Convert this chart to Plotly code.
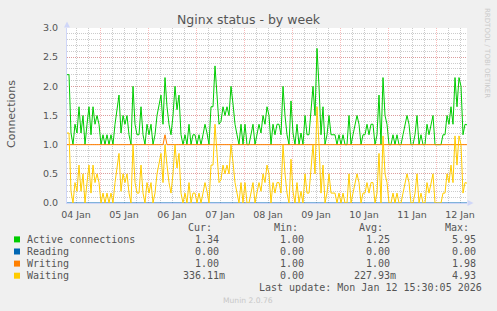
import plotly.graph_objects as go
import pandas as pd

# ---------------- data (hourly samples, 04 Jan 07:30 -> 12 Jan 15:30) ----------------
start_time = "2026-01-04 07:30"
end_time = "2026-01-12 15:30"

active = [
    2.2, 2.2, 1.2, 1.0, 1.35, 1.2, 1.65, 1.2, 1.5, 1.0, 1.35, 1.65, 1.17, 1.65, 1.35, 1.5, 1.35,
    1.0, 1.17, 1.0, 1.17, 1.0, 1.17, 1.0, 1.35, 1.65, 1.85, 1.2, 1.5, 1.35, 1.5, 1.17, 1.0, 2.0,
    1.35, 1.17, 1.17, 1.65, 1.17, 1.0, 1.35, 1.17, 1.35, 1.0, 1.17, 1.5, 1.65, 1.85, 1.35, 2.15, 1.65,
    1.35, 1.17, 1.5, 2.0, 1.6, 1.85, 1.17, 1.0, 1.17, 1.0, 1.35, 1.0, 1.17, 1.17, 1.0, 1.17, 1.0,
    1.17, 1.35, 1.2, 1.0, 1.65, 1.65, 2.35, 1.8, 1.35, 1.4, 1.65, 1.5, 1.65, 1.5, 2.0, 1.7, 1.35,
    1.17, 1.0, 1.35, 1.0, 1.35, 1.0, 1.0, 1.17, 1.35, 1.0, 1.17, 1.35, 1.2, 1.5, 1.35, 1.65,
    1.5, 1.0, 1.35, 1.17, 1.35, 1.35, 1.17, 2.0, 1.5, 1.17, 1.0, 1.75, 1.2, 1.0, 1.35, 1.0, 1.2,
    1.0, 1.5, 1.17, 1.17, 1.65, 2.0, 1.5, 2.65, 2.0, 1.17, 1.65, 1.0, 1.17, 1.5, 1.17, 1.17, 1.17,
    1.0, 1.17, 1.0, 1.17, 1.0, 1.0, 1.5, 1.0, 1.17, 1.35, 1.5, 1.35, 1.0, 1.17, 1.17, 1.35, 1.17,
    1.35, 1.35, 1.0, 1.17, 1.85, 1.0, 2.15, 1.5, 1.35, 1.0, 1.0, 1.17, 1.0, 1.17, 1.0, 1.0,
    1.17, 1.35, 1.5, 1.35, 1.0, 1.0, 1.17, 1.5, 1.0, 1.17, 1.0, 1.0, 1.35, 1.17, 1.35, 1.5, 1.0,
    1.0, 1.0, 1.0, 1.17, 1.17, 1.5, 1.35, 1.65, 1.35, 2.15, 1.65, 2.15, 2.0, 1.17, 1.35, 1.34,
]

waiting = [
    1.2, 1.2, 0.2, 0.0, 0.35, 0.2, 0.65, 0.2, 0.5, 0.0, 0.35, 0.65, 0.17, 0.65, 0.35, 0.5, 0.35,
    0.0, 0.17, 0.0, 0.17, 0.0, 0.17, 0.0, 0.35, 0.65, 0.85, 0.2, 0.5, 0.35, 0.5, 0.17, 0.0, 1.0,
    0.35, 0.17, 0.17, 0.65, 0.17, 0.0, 0.35, 0.17, 0.35, 0.0, 0.17, 0.5, 0.65, 0.85, 0.35, 1.0, 0.65,
    0.35, 0.17, 0.5, 1.0, 0.6, 0.85, 0.17, 0.0, 0.17, 0.0, 0.35, 0.0, 0.17, 0.17, 0.0, 0.17, 0.0,
    0.17, 0.35, 0.2, 0.0, 0.65, 0.65, 1.35, 0.8, 0.35, 0.4, 0.65, 0.5, 0.65, 0.5, 1.0, 0.7, 0.35,
    0.17, 0.0, 0.35, 0.0, 0.35, 0.0, 0.0, 0.17, 0.35, 0.0, 0.17, 0.35, 0.2, 0.5, 0.35, 0.65,
    0.5, 0.0, 0.35, 0.17, 0.35, 0.35, 0.17, 1.0, 0.5, 0.17, 0.0, 0.75, 0.2, 0.0, 0.35, 0.0, 0.2,
    0.0, 0.5, 0.17, 0.17, 0.65, 1.0, 0.5, 1.65, 1.0, 0.17, 0.65, 0.0, 0.17, 0.5, 0.17, 0.17, 0.17,
    0.0, 0.17, 0.0, 0.17, 0.0, 0.0, 0.5, 0.0, 0.17, 0.35, 0.5, 0.35, 0.0, 0.17, 0.17, 0.35, 0.17,
    0.35, 0.35, 0.0, 0.17, 0.85, 0.0, 1.15, 0.5, 0.35, 0.0, 0.0, 0.17, 0.0, 0.17, 0.0, 0.0,
    0.17, 0.35, 0.5, 0.35, 0.0, 0.0, 0.17, 0.5, 0.0, 0.17, 0.0, 0.0, 0.35, 0.17, 0.35, 0.5, 0.0,
    0.0, 0.0, 0.0, 0.17, 0.17, 0.5, 0.35, 0.65, 0.35, 1.15, 0.65, 1.15, 1.0, 0.17, 0.35, 0.34,
]

writing = [1.0] * 49 + [1.17] + [1.0] * 151
reading = [0.0] * 201

series_names = ["Active connections", "Reading", "Writing", "Waiting"]
series_colors = ["#00CC00", "#0066B3", "#FF8000", "#FFCC00"]
cur_vals = ["1.34", "0.00", "1.00", "336.11m"]
min_vals = ["1.00", "0.00", "1.00", "0.00"]
avg_vals = ["1.25", "0.00", "1.00", "227.93m"]
max_vals = ["5.95", "0.00", "1.98", "4.93"]
y_ticks = [0.0, 0.5, 1.0, 1.5, 2.0, 2.5, 3.0]

title_text = "Nginx status - by week"
y_title = "Connections"
last_update = "Last update: Mon Jan 12 15:30:05 2026"
footer = "Munin 2.0.76"
side_text = "RRDTOOL / TOBI OETIKER"

# ---------------- layout geometry ----------------
W, H = 497, 311
L, R, T, B = 67, 30, 28, 108
PW = W - L - R
PH = H - T - B


def fx(x):
    return (x - L) / PW


def fy(y):
    return (H - B - y) / PH


times = pd.date_range(start_time, periods=len(active), freq="h")

fig = go.Figure()
for name, vals, col in zip(series_names, [active, reading, writing, waiting], series_colors):
    fig.add_trace(go.Scatter(x=times, y=vals, mode="lines", name=name,
                             line=dict(color=col, width=1), hoverinfo="skip",
                             showlegend=False))

MAJ = "rgba(240,90,90,0.42)"
MIN = "rgba(130,130,130,0.42)"
FONTC = "#555555"
AXC = "#CFD6F8"

fig.update_layout(
    width=W, height=H,
    margin=dict(l=L, r=R, t=T, b=B, pad=0),
    paper_bgcolor="#F0F0F0", plot_bgcolor="#FFFFFF",
    showlegend=False,
    xaxis=dict(
        type="date", range=[start_time, end_time],
        tickmode="linear", tick0="2026-01-04", dtick=86400000,
        ticklabelmode="period", tickformat="%d %b",
        showgrid=True, gridcolor=MAJ, griddash="1px,1px", gridwidth=1,
        minor=dict(tick0="2026-01-04", dtick=6 * 3600 * 1000, showgrid=True,
                   gridcolor=MIN, griddash="1px,1px", ticks=""),
        ticks="", showline=True, linecolor=AXC, linewidth=1,
        zeroline=False, tickfont=dict(family="DejaVu Sans", size=9.5, color=FONTC),
        ticklabelstandoff=3,
    ),
    yaxis=dict(
        range=[0, 3.0], tickmode="array", tickvals=y_ticks, tickformat=".1f",
        showgrid=True, gridcolor=MAJ, griddash="1px,1px", gridwidth=1,
        minor=dict(dtick=0.1, tick0=0, showgrid=True, gridcolor=MIN,
                   griddash="1px,1px", ticks=""),
        ticks="", showline=True, linecolor=AXC, linewidth=1, zeroline=False,
        tickfont=dict(family="DejaVu Sans", size=9.5, color=FONTC),
        ticklabelstandoff=6,
    ),
)

shapes = []
# axis arrows
shapes.append(dict(type="path", xref="paper", yref="paper",
                   path=f"M {fx(64)} {fy(27.5)} L {fx(67)} {fy(21.5)} L {fx(70)} {fy(27.5)} Z",
                   fillcolor=AXC, line=dict(width=0)))
shapes.append(dict(type="path", xref="paper", yref="paper",
                   path=f"M {fx(467.5)} {fy(200)} L {fx(473.5)} {fy(203)} L {fx(467.5)} {fy(206)} Z",
                   fillcolor=AXC, line=dict(width=0)))

ann = []


def text(x, y, s, size=10, family="DejaVu Sans Mono", color=FONTC, xanchor="left", angle=0):
    ann.append(dict(x=fx(x), y=fy(y), xref="paper", yref="paper", text=s, showarrow=False,
                    xanchor=xanchor, yanchor="middle", textangle=angle, borderpad=0,
                    font=dict(family=family, size=size, color=color)))


text(248.5, 19, title_text, size=12.5, family="DejaVu Sans", xanchor="center")
text(11, 114, y_title, size=11, family="DejaVu Sans", xanchor="center", angle=-90)
text(487, 53, side_text, size=7, family="DejaVu Sans", color="#CACACA", xanchor="center", angle=90)

col_right = [219.5, 305.2, 390.9, 476.7]
headers = ["Cur:", "Min:", "Avg:", "Max:"]
for hx, hs in zip(col_right, headers):
    text(hx - 6.6, 227.3, hs, xanchor="right")

for i, name in enumerate(series_names):
    yrow = 239.4 + 12.1 * i
    shapes.append(dict(type="rect", xref="paper", yref="paper",
                       x0=fx(14), x1=fx(20), y0=fy(yrow + 3), y1=fy(yrow - 3),
                       fillcolor=series_colors[i], line=dict(width=0)))
    text(26, yrow, name)
    for cx, vals in zip(col_right, [cur_vals, min_vals, avg_vals, max_vals]):
        v = vals[i]
        text(cx + (6.0 if v.endswith("m") else 0), yrow, v, xanchor="right")

text(483, 287.7, last_update, xanchor="right")
text(247.7, 300, footer, size=7.6, family="DejaVu Sans", color="#C8C8C8", xanchor="center")

fig.update_layout(shapes=shapes, annotations=ann)
fig.write_html("out.html")
